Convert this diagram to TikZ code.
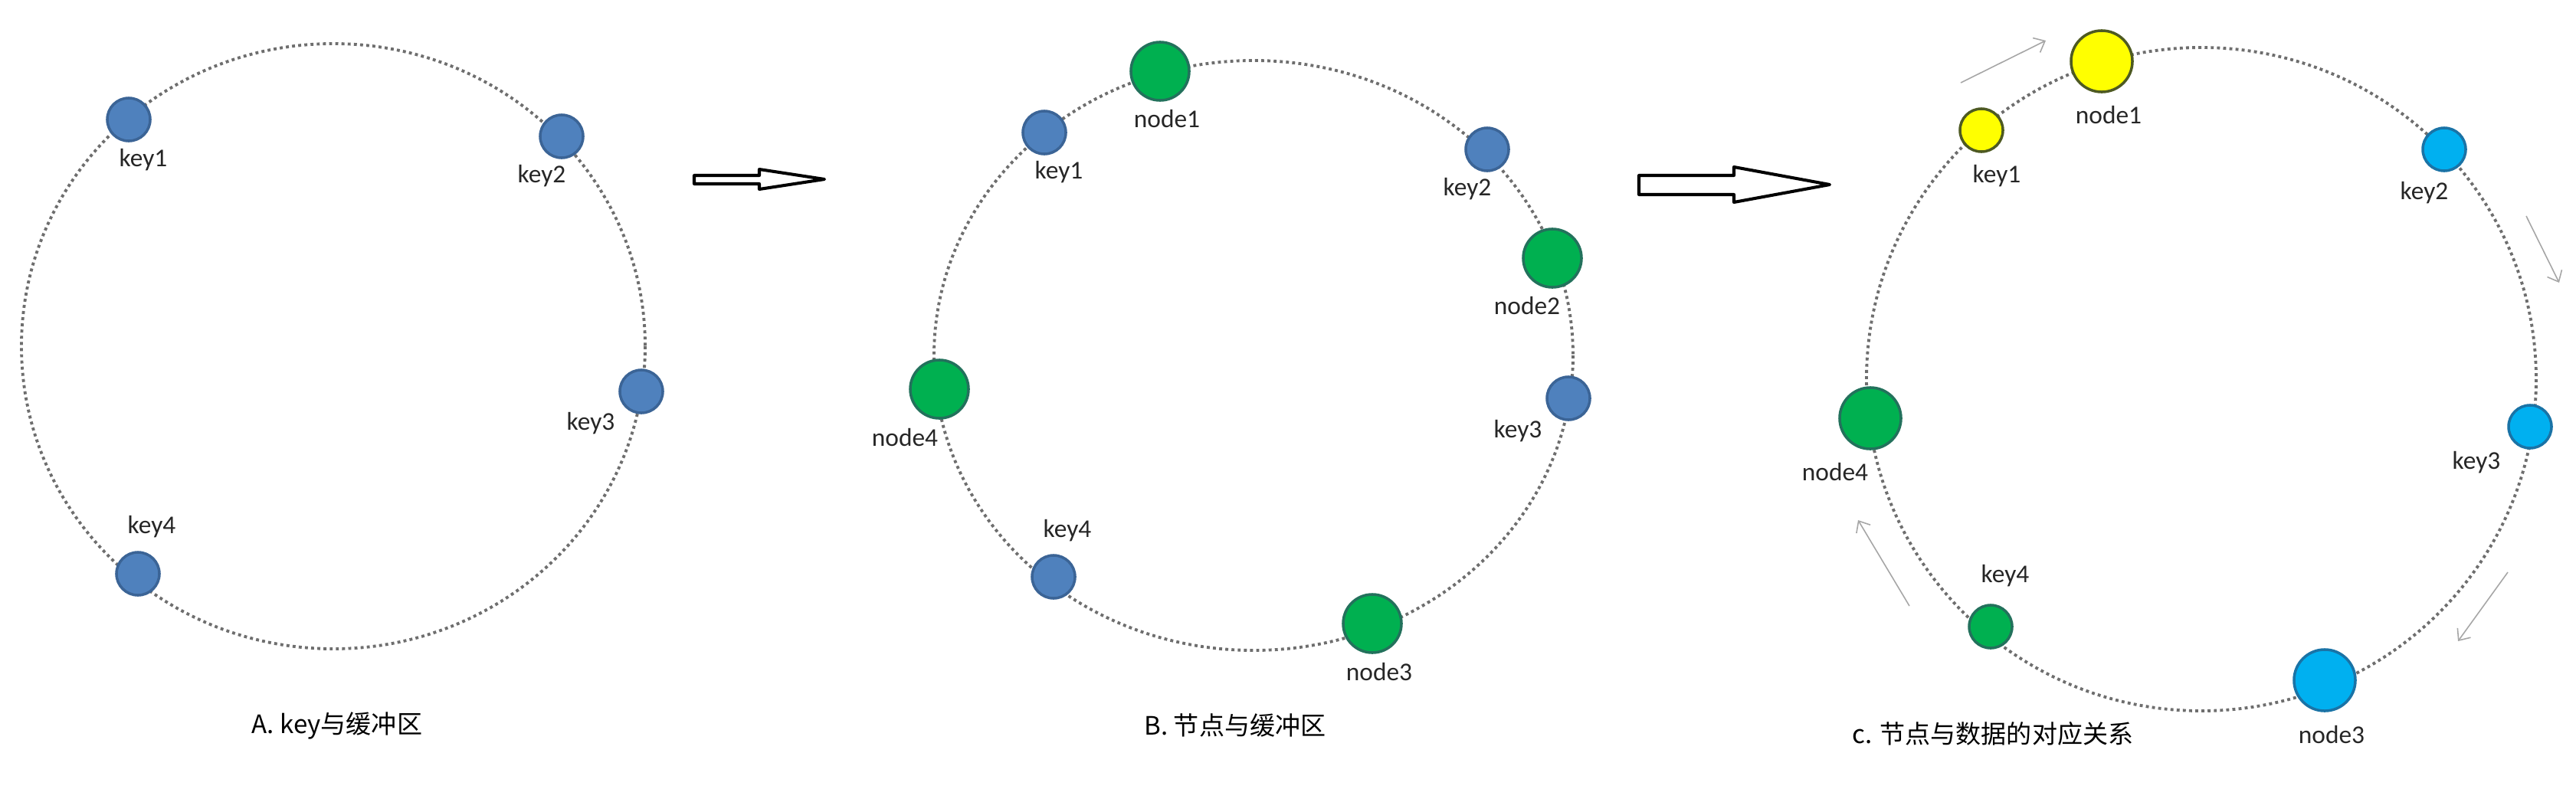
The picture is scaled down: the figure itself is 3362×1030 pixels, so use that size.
\documentclass[tikz,border=0pt]{standalone}
\usepackage{fontspec}
\setmainfont{Carlito}
\newfontfamily\cjk{Noto Sans CJK SC}
\usetikzlibrary{arrows.meta}

\definecolor{keyblue}{HTML}{4F81BD}
\definecolor{keyblueline}{HTML}{3B6496}
\definecolor{nodegreen}{HTML}{00B050}
\definecolor{nodegreenline}{HTML}{23715C}
\definecolor{cyanblue}{HTML}{00B0F0}
\definecolor{cyanblueline}{HTML}{1A73A6}
\definecolor{hotyellow}{HTML}{FFFF00}
\definecolor{hotyellowline}{HTML}{4E5A22}
\definecolor{ringgray}{HTML}{6E6E6E}
\definecolor{labelgray}{HTML}{262626}

\begin{document}
\begin{tikzpicture}[x=0.01cm,y=-0.01cm,
  ring/.style={ringgray,line width=1.1pt,dash pattern=on 1.1pt off 1.2pt},
  keydot/.style={circle,draw,line width=1pt,minimum size=0.56cm,inner sep=0pt},
  nodedot/.style={circle,draw,line width=1pt,minimum size=0.76cm,inner sep=0pt},
  bignodedot/.style={nodedot,minimum size=0.8cm},
  lbl/.style={text=labelgray,font=\fontsize{9.5}{11}\selectfont,inner sep=0pt},
  caption/.style={font=\cjk\fontsize{9.4}{11}\selectfont,inner sep=0pt},
  blockarrow/.style={draw=black,fill=white,line width=1.15pt,line join=round},
  turn/.style={draw=gray!70,line width=0.45pt,-{Straight Barb[length=3.5pt,width=6pt]}}]
\useasboundingbox (0,0) rectangle (3362,1030);

% A. keys on the ring
\draw[ring] (435,452) ellipse [x radius=407, y radius=395];
\node[keydot,fill=keyblue,draw=keyblueline] (aKey1) at (168,156) {};
\node[keydot,fill=keyblue,draw=keyblueline] (aKey2) at (733,178) {};
\node[keydot,fill=keyblue,draw=keyblueline] (aKey3) at (837,511) {};
\node[keydot,fill=keyblue,draw=keyblueline] (aKey4) at (180,749) {};
\node[lbl] (aKey1l) at (187,209) {key1};
\node[lbl] (aKey2l) at (707,230) {key2};
\node[lbl] (aKey3l) at (771,553) {key3};
\node[lbl] (aKey4l) at (198,688) {key4};
\node[caption] (aCap) at (440,947) {A. key与缓冲区};

% first block arrow
\draw[blockarrow] (906,229) -- (991,229) -- (991,221) -- (1076,234)
  -- (991,247) -- (991,240) -- (906,240) -- cycle;

% B. nodes and keys on the ring
\draw[ring] (1636,464) ellipse [x radius=417, y radius=385];
\node[nodedot,fill=nodegreen,draw=nodegreenline] (bNode1) at (1514,93) {};
\node[nodedot,fill=nodegreen,draw=nodegreenline] (bNode2) at (2026,337) {};
\node[nodedot,fill=nodegreen,draw=nodegreenline] (bNode3) at (1791,814) {};
\node[nodedot,fill=nodegreen,draw=nodegreenline] (bNode4) at (1226,508) {};
\node[keydot,fill=keyblue,draw=keyblueline] (bKey1) at (1363,173) {};
\node[keydot,fill=keyblue,draw=keyblueline] (bKey2) at (1941,195) {};
\node[keydot,fill=keyblue,draw=keyblueline] (bKey3) at (2047,520) {};
\node[keydot,fill=keyblue,draw=keyblueline] (bKey4) at (1375,753) {};
\node[lbl] (bNode1l) at (1523,155) {node1};
\node[lbl] (bNode2l) at (1993,399) {node2};
\node[lbl] (bNode3l) at (1800,877) {node3};
\node[lbl] (bNode4l) at (1181,571) {node4};
\node[lbl] (bKey1l) at (1382,225) {key1};
\node[lbl] (bKey2l) at (1915,247) {key2};
\node[lbl] (bKey3l) at (1981,563) {key3};
\node[lbl] (bKey4l) at (1393,693) {key4};
\node[caption] (bCap) at (1612,947) {B. 节点与缓冲区};

% second block arrow
\draw[blockarrow] (2139,229) -- (2263,229) -- (2263,218) -- (2388,241)
  -- (2263,264) -- (2263,254) -- (2139,254) -- cycle;

% C. each key goes to the next node clockwise
\draw[ring] (2873,495) ellipse [x radius=437, y radius=433];
\node[bignodedot,fill=hotyellow,draw=hotyellowline] (cNode1) at (2743,80) {};
\node[keydot,fill=hotyellow,draw=hotyellowline] (cKey1) at (2586,170) {};
\node[keydot,fill=cyanblue,draw=cyanblueline] (cKey2) at (3190,195) {};
\node[keydot,fill=cyanblue,draw=cyanblueline] (cKey3) at (3302,557) {};
\node[bignodedot,fill=cyanblue,draw=cyanblueline] (cNode3) at (3034,888) {};
\node[keydot,fill=nodegreen,draw=nodegreenline] (cKey4) at (2598,818) {};
\node[bignodedot,fill=nodegreen,draw=nodegreenline] (cNode4) at (2441,546) {};
\node[lbl] (cNode1l) at (2752,150) {node1};
\node[lbl] (cKey1l) at (2606,230) {key1};
\node[lbl] (cKey2l) at (3164,252) {key2};
\node[lbl] (cKey3l) at (3232,604) {key3};
\node[lbl] (cNode3l) at (3043,959) {node3};
\node[lbl] (cKey4l) at (2617,752) {key4};
\node[lbl] (cNode4l) at (2395,616) {node4};
\node[caption] (cCap) at (2601,958) {c. 节点与数据的对应关系};

% clockwise hints
\coordinate (cTurn1a) at (2559,108);
\coordinate (cTurn1b) at (2670,53);
\coordinate (cTurn2a) at (3297,282);
\coordinate (cTurn2b) at (3340,369);
\coordinate (cTurn3a) at (3273,747);
\coordinate (cTurn3b) at (3208,837);
\coordinate (cTurn4a) at (2492,791);
\coordinate (cTurn4b) at (2425,679);
\draw[turn] (cTurn1a) -- (cTurn1b);
\draw[turn] (cTurn2a) -- (cTurn2b);
\draw[turn] (cTurn3a) -- (cTurn3b);
\draw[turn] (cTurn4a) -- (cTurn4b);
\end{tikzpicture}
\end{document}
